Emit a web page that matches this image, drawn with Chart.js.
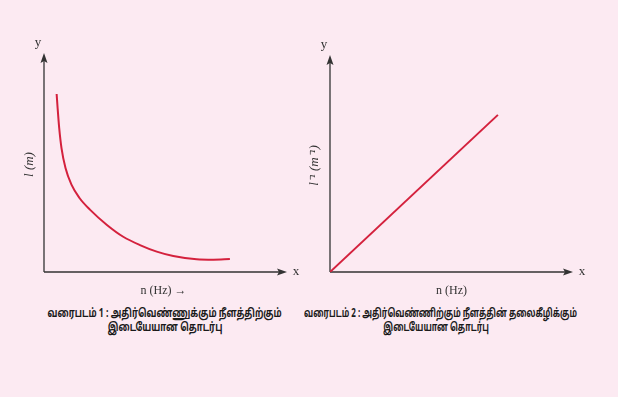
<!DOCTYPE html>
<html>
<head>
<meta charset="utf-8">
<script src="https://cdn.jsdelivr.net/npm/chart.js@4"></script>
<style>
  html, body { margin: 0; padding: 0; }
  body { width: 618px; height: 397px; background: #fceaf2; position: relative; overflow: hidden; }
  canvas { position: absolute; top: 0; }
  #c1 { left: 0; }
  #c2 { left: 309px; }
  .cap { position: absolute; top: 307px; width: 400px; text-align: center; font-weight: bold; font-family: "Noto Sans Tamil", "Liberation Sans", Arial, sans-serif; font-size: 12px; line-height: 14px; color: #1a1a1a; white-space: nowrap; }
  .cap span { display: inline-block; transform-origin: center; }
  #cap1 { left: -35px; }
  #cap2 { left: 236px; }
</style>
</head>
<body>
<canvas id="c1" width="309" height="300"></canvas>
<canvas id="c2" width="309" height="300"></canvas>
<div class="cap" id="cap1"><span data-w="234">வரைபடம் 1 : அதிர்வெண்ணுக்கும் நீளத்திற்கும்</span><br><span>இடையேயான தொடர்பு</span></div>
<div class="cap" id="cap2"><span data-w="273">வரைபடம் 2 : அதிர்வெண்ணிற்கும் நீளத்தின் தலைகீழிக்கும்</span><br><span>இடையேயான தொடர்பு</span></div>
<script>
/* global Chart */
{
  'use strict';

  // graph 1 : length vs frequency
  const curveN = [5.2, 5.6, 6.25, 7.2, 8.85, 11.3, 14.6, 18.9, 25.9, 32.6, 39.5, 46.4, 53.2, 62.8, 69.7, 76.5];
  const curveL = [81.3, 74.9, 65.8, 56.6, 47.5, 39.9, 33.8, 28.5, 21.5, 16.1, 12.3, 9.3, 7.3, 5.8, 5.6, 5.9];

  // graph 2 : inverse length vs frequency
  const lineN = [0, 69.1];
  const lineInvL = [0, 72.4];

  const RED = '#d4213d';
  const AXIS = '#333';

  function toPoints(xs, ys) {
    return xs.map(function(x, i) { return { x: x, y: ys[i] }; });
  }

  function arrow(ctx, x, y, dir) {
    ctx.beginPath();
    if (dir === 'up') {
      ctx.moveTo(x, y);
      ctx.lineTo(x - 3.5, y + 10);
      ctx.lineTo(x, y + 8);
      ctx.lineTo(x + 3.5, y + 10);
    } else {
      ctx.moveTo(x, y);
      ctx.lineTo(x - 10, y - 3.5);
      ctx.lineTo(x - 8, y);
      ctx.lineTo(x - 10, y + 3.5);
    }
    ctx.closePath();
    ctx.fill();
  }

  // axes with arrow heads and labels
  const axesPlugin = {
    id: 'axes',
    beforeDatasetsDraw: function(chart, args, opts) {
      const ctx = chart.ctx;
      const xs = chart.scales.x, ys = chart.scales.y;
      const x0 = xs.getPixelForValue(0), y0 = ys.getPixelForValue(0);
      const xEnd = xs.getPixelForValue(100), yEnd = ys.getPixelForValue(100);
      ctx.save();
      ctx.strokeStyle = AXIS;
      ctx.fillStyle = AXIS;
      ctx.lineWidth = 1.3;
      ctx.beginPath();
      ctx.moveTo(x0, y0);
      ctx.lineTo(x0, yEnd + 6);
      ctx.moveTo(x0, y0);
      ctx.lineTo(xEnd - 6, y0);
      ctx.stroke();
      arrow(ctx, x0, yEnd, 'up');
      arrow(ctx, xEnd, y0, 'right');

      ctx.fillStyle = '#333';
      ctx.font = '13px "Liberation Serif", serif';
      ctx.textAlign = 'center';
      ctx.textBaseline = 'middle';
      ctx.fillText('y', x0 - 6, yEnd - 10);
      ctx.fillText('x', xEnd + 9, y0);
      ctx.font = '12px "Liberation Serif", serif';
      ctx.fillText(opts.xTitle, (x0 + xEnd) / 2 + opts.xShift, y0 + 19);

      ctx.font = 'italic 13px "Liberation Serif", serif';
      ctx.translate(x0 - opts.yGap, (y0 + yEnd) / 2 + 2);
      ctx.rotate(-Math.PI / 2);
      ctx.fillText(opts.yTitle, 0, 0);
      ctx.restore();
    }
  };

  function makeChart(id, xs, ys, pad, titles) {
    return new Chart(document.getElementById(id), {
      type: 'line',
      data: {
        datasets: [{
          data: toPoints(xs, ys),
          borderColor: RED,
          borderWidth: 2,
          pointRadius: 0,
          cubicInterpolationMode: 'monotone',
          fill: false
        }]
      },
      options: {
        responsive: false,
        devicePixelRatio: 1,
        animation: false,
        layout: { padding: pad },
        plugins: {
          legend: { display: false },
          tooltip: { enabled: false },
          axes: titles
        },
        scales: {
          x: { type: 'linear', min: 0, max: 100, display: false },
          y: { type: 'linear', min: 0, max: 100, display: false }
        }
      },
      plugins: [axesPlugin]
    });
  }

  makeChart('c1', curveN, curveL,
    { left: 44, right: 22, top: 53, bottom: 28 },
    { xTitle: 'n (Hz) \u2192', xShift: -2, yTitle: 'l (m)', yGap: 14 });

  makeChart('c2', lineN, lineInvL,
    { left: 21, right: 45, top: 55, bottom: 28 },
    { xTitle: 'n (Hz)', xShift: 0, yTitle: 'l\u207B\u00B9 (m\u207B\u00B9)', yGap: 15 });

  // squeeze caption lines so the first line is as wide as in the picture
  document.querySelectorAll('.cap').forEach(function(cap) {
    const first = cap.querySelector('span[data-w]');
    const k = Number(first.dataset.w) / first.offsetWidth;
    cap.querySelectorAll('span').forEach(function(s) {
      s.style.transform = 'scaleX(' + k.toFixed(3) + ')';
    });
  });
}
</script>
</body>
</html>
